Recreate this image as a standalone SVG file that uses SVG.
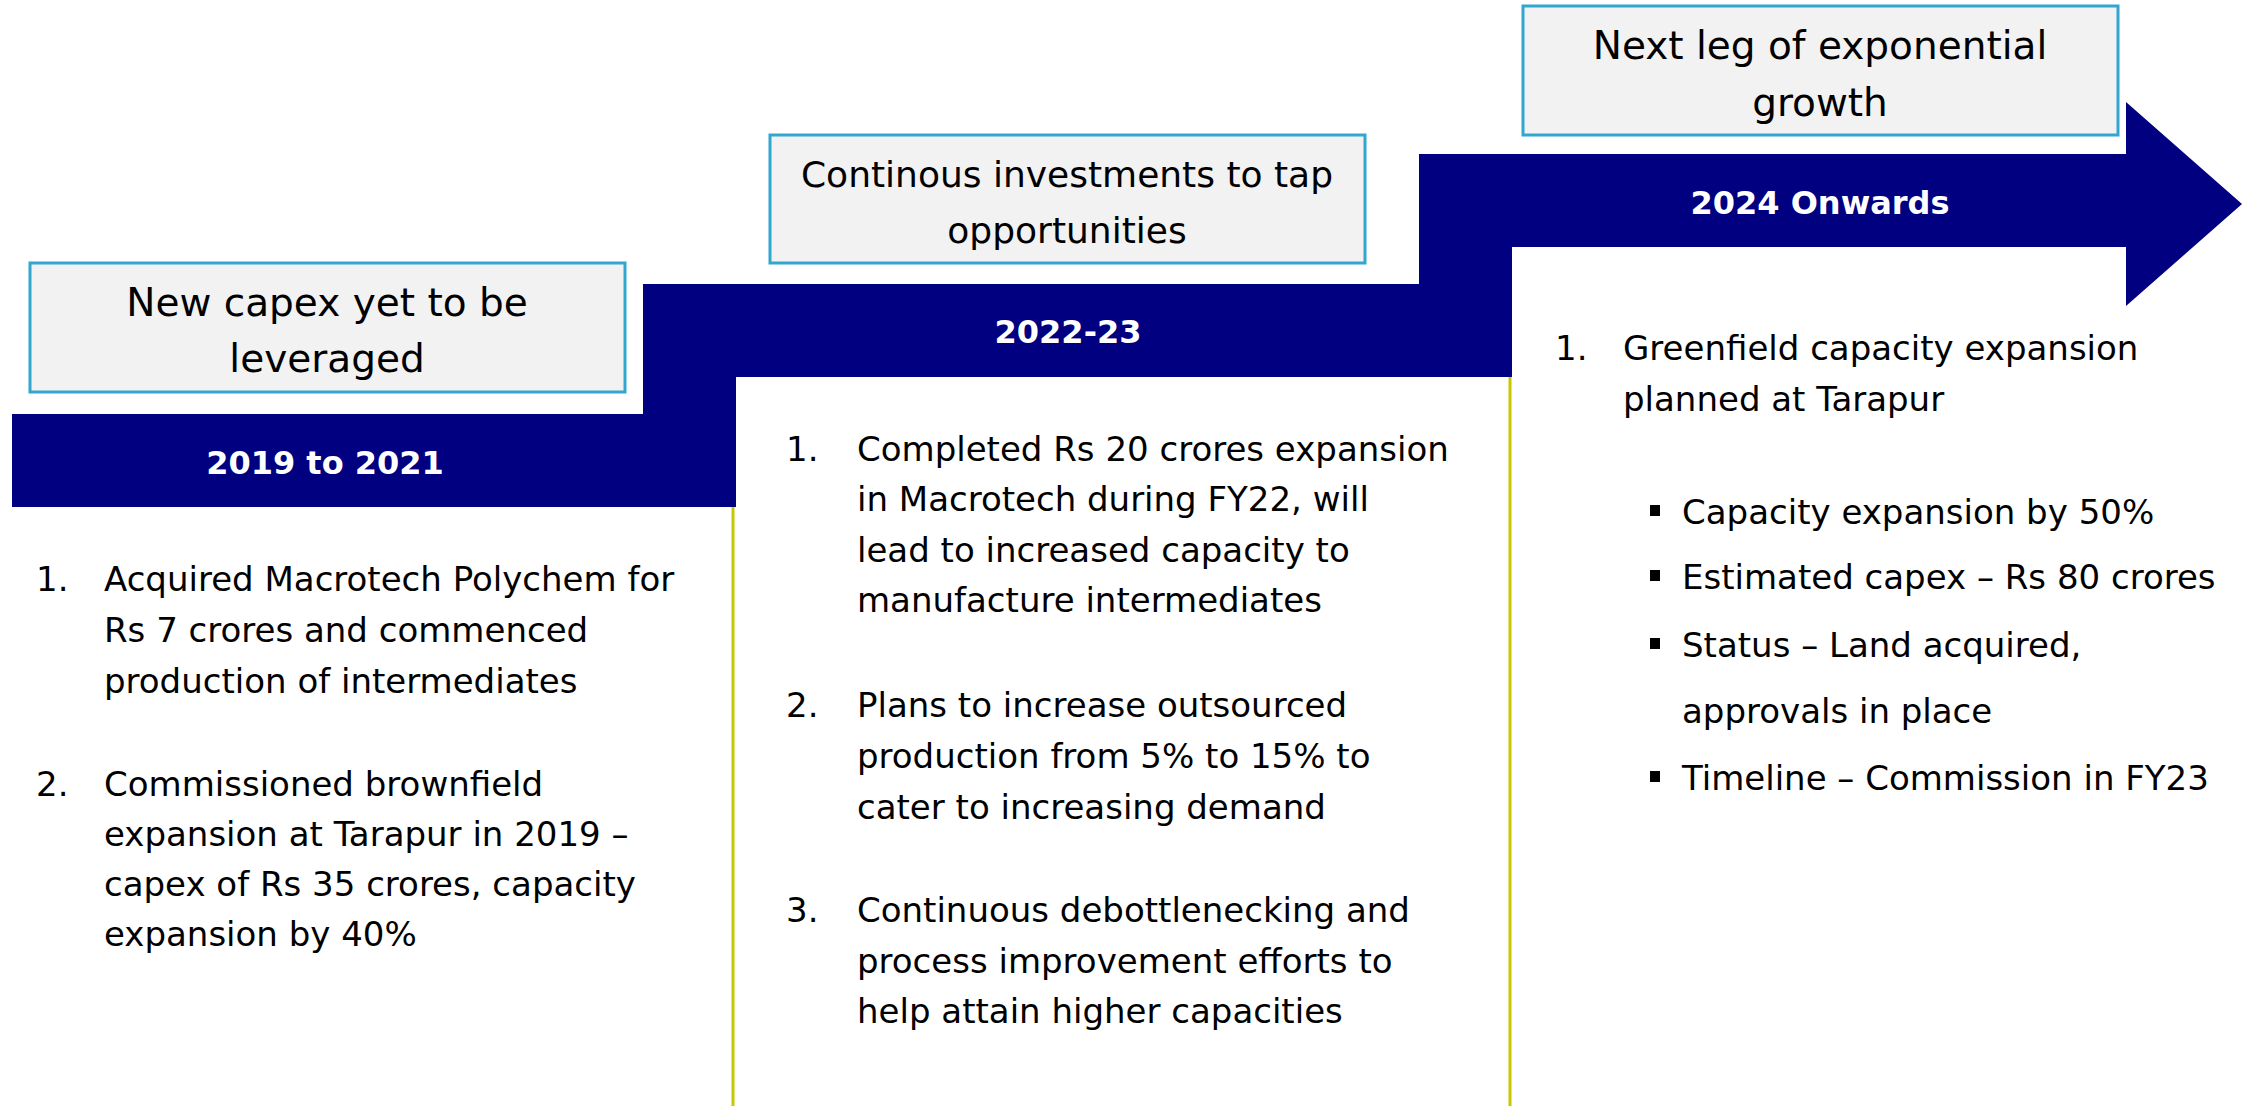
<svg xmlns="http://www.w3.org/2000/svg" width="2249" height="1106" viewBox="0 0 2249 1106">
<style>
.box{fill:#f2f2f2;stroke:#31a7d0;stroke-width:3}
.bt{font-family:"DejaVu Sans",sans-serif;fill:#000;text-anchor:middle}
.bt39{font-size:39px}
.bt36{font-size:36px}
.band{fill:#000080}
.yt{font-family:"DejaVu Sans",sans-serif;font-weight:bold;font-size:32px;fill:#fff;text-anchor:middle}
.tx{font-family:"DejaVu Sans",sans-serif;font-size:34px;fill:#000}
.vl{stroke:#c8c800;stroke-width:3;fill:none}
.sq{fill:#000}
</style>
<rect width="2249" height="1106" fill="#fff"/>
<g id="timeline-arrow">
<path class="band" d="M12,414 H643 V284 H1419 V154 H2126 V102 L2242,204 L2126,306 V247 H1512 V377 H736 V507 H12 Z"/>
<text class="yt" x="325" y="474">2019 to 2021</text>
<text class="yt" x="1068" y="343">2022-23</text>
<text class="yt" x="1820" y="214">2024 Onwards</text>
</g>
<g id="connectors">
<line class="vl" x1="733" y1="507" x2="733" y2="1106"/>
<line class="vl" x1="1510" y1="377" x2="1510" y2="1106"/>
</g>
<g id="box1">
<rect class="box" x="30" y="263" width="595" height="129"/>
<text class="bt bt39" x="327" y="316">New capex yet to be</text>
<text class="bt bt39" x="327" y="372">leveraged</text>
</g>
<g id="box2">
<rect class="box" x="770" y="135" width="595" height="128"/>
<text class="bt bt36" x="1067" y="187">Continous investments to tap</text>
<text class="bt bt36" x="1067" y="243">opportunities</text>
</g>
<g id="box3">
<rect class="box" x="1523" y="6" width="595" height="129"/>
<text class="bt bt39" x="1820" y="59">Next leg of exponential</text>
<text class="bt bt39" x="1820" y="116">growth</text>
</g>
<g id="col1">
<text class="tx" x="36" y="591">1.</text>
<text class="tx" x="104" y="591">Acquired Macrotech Polychem for</text>
<text class="tx" x="104" y="642">Rs 7 crores and commenced</text>
<text class="tx" x="104" y="693">production of intermediates</text>
<text class="tx" x="36" y="796">2.</text>
<text class="tx" x="104" y="796">Commissioned brownfield</text>
<text class="tx" x="104" y="846">expansion at Tarapur in 2019 –</text>
<text class="tx" x="104" y="896">capex of Rs 35 crores, capacity</text>
<text class="tx" x="104" y="946">expansion by 40%</text>
</g>
<g id="col2">
<text class="tx" x="786" y="461">1.</text>
<text class="tx" x="857" y="461">Completed Rs 20 crores expansion</text>
<text class="tx" x="857" y="511">in Macrotech during FY22, will</text>
<text class="tx" x="857" y="562">lead to increased capacity to</text>
<text class="tx" x="857" y="612">manufacture intermediates</text>
<text class="tx" x="786" y="717">2.</text>
<text class="tx" x="857" y="717">Plans to increase outsourced</text>
<text class="tx" x="857" y="768">production from 5% to 15% to</text>
<text class="tx" x="857" y="819">cater to increasing demand</text>
<text class="tx" x="786" y="922">3.</text>
<text class="tx" x="857" y="922">Continuous debottlenecking and</text>
<text class="tx" x="857" y="973">process improvement efforts to</text>
<text class="tx" x="857" y="1023">help attain higher capacities</text>
</g>
<g id="col3">
<text class="tx" x="1555" y="360">1.</text>
<text class="tx" x="1623" y="360">Greenfield capacity expansion</text>
<text class="tx" x="1623" y="411">planned at Tarapur</text>
<rect class="sq" x="1650" y="505" width="10" height="11"/>
<text class="tx" x="1682" y="524">Capacity expansion by 50%</text>
<rect class="sq" x="1650" y="570" width="10" height="11"/>
<text class="tx" x="1682" y="589">Estimated capex – Rs 80 crores</text>
<rect class="sq" x="1650" y="638" width="10" height="11"/>
<text class="tx" x="1682" y="657">Status – Land acquired,</text>
<text class="tx" x="1682" y="723">approvals in place</text>
<rect class="sq" x="1650" y="771" width="10" height="11"/>
<text class="tx" x="1682" y="790">Timeline – Commission in FY23</text>
</g>
</svg>
